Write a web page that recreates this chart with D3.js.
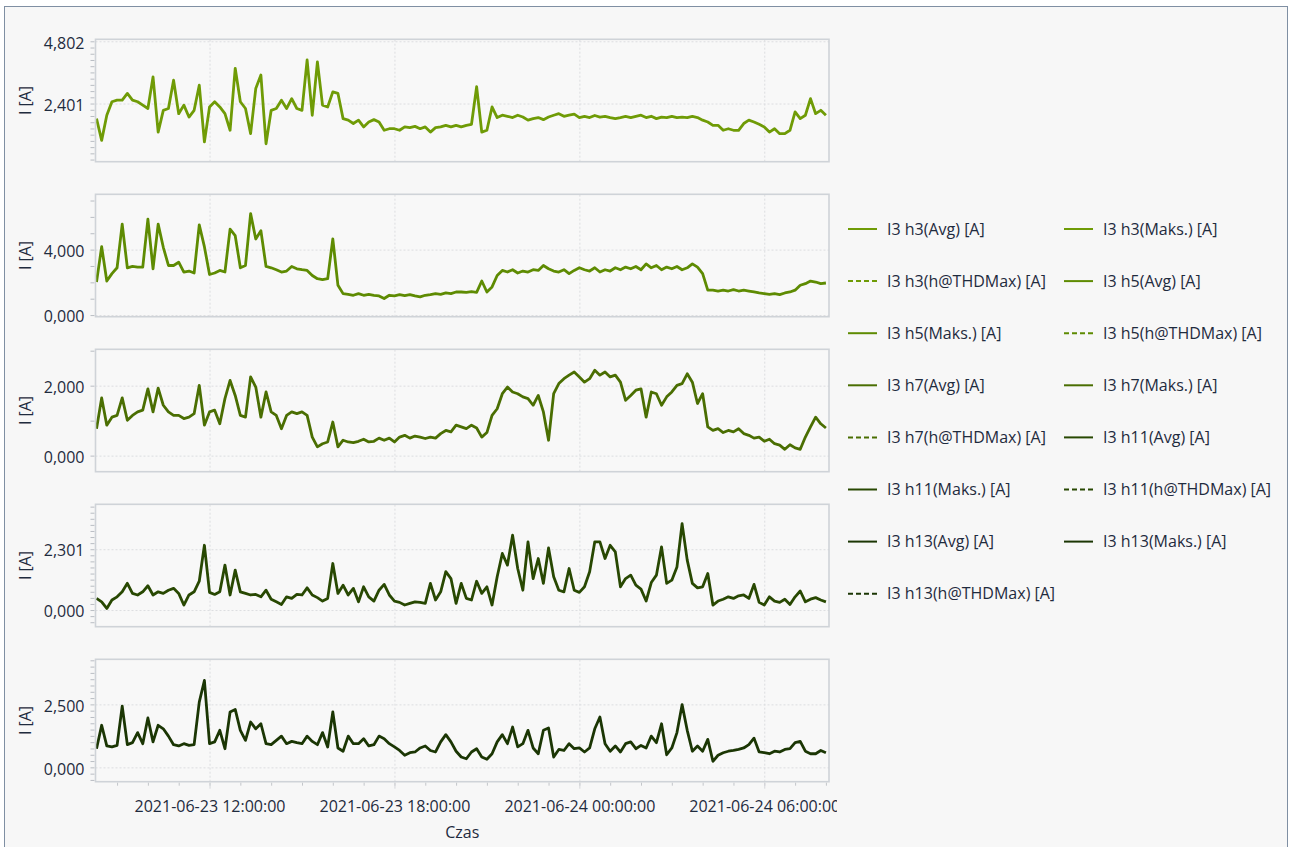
<!DOCTYPE html>
<html>
<head>
<meta charset="utf-8">
<script src="https://cdn.jsdelivr.net/npm/d3@7"></script>
<style>
  body { margin: 0; background: #fff; }
  svg text { font-family: "Open Sans", "Noto Sans", sans-serif; fill: #1f2b3e; }
</style>
</head>
<body>
<div id="chart"></div>
<script>
// samples every 10 minutes from 2021-06-23 08:20
const sampleStart = new Date(2021, 5, 23, 8, 20);
const sampleStepMinutes = 10;

const h3Values = [
  1.82, 0.98, 1.95, 2.47, 2.53, 2.53, 2.79, 2.53, 2.47, 2.34,
  2.21, 3.43, 1.30, 2.14, 2.21, 3.30, 2.01, 2.34, 1.88, 2.14,
  3.11, 0.92, 2.27, 2.47, 2.27, 2.01, 1.37, 3.76, 2.47, 2.21,
  1.24, 2.98, 3.50, 0.85, 2.14, 2.21, 2.53, 2.21, 2.59, 2.21,
  2.14, 4.08, 1.95, 4.01, 2.34, 2.27, 2.85, 2.79, 1.82, 1.76,
  1.63, 1.76, 1.50, 1.69, 1.78, 1.69, 1.37, 1.43, 1.43, 1.37,
  1.50, 1.47, 1.52, 1.43, 1.50, 1.30, 1.47, 1.50, 1.56, 1.50,
  1.56, 1.50, 1.56, 1.60, 3.05, 1.30, 1.37, 2.27, 1.86, 1.95,
  1.91, 1.86, 1.95, 1.88, 1.76, 1.82, 1.86, 1.78, 1.88, 1.95,
  2.01, 1.91, 1.95, 1.99, 1.86, 1.91, 1.86, 1.94, 1.88, 1.91,
  1.86, 1.82, 1.86, 1.91, 1.86, 1.91, 1.95, 1.86, 1.91, 1.82,
  1.88, 1.86, 1.91, 1.86, 1.88, 1.86, 1.91, 1.86, 1.76, 1.69,
  1.56, 1.56, 1.37, 1.43, 1.37, 1.37, 1.63, 1.76, 1.69, 1.60,
  1.50, 1.30, 1.43, 1.24, 1.24, 1.37, 2.08, 1.82, 1.95, 2.59,
  2.01, 2.14, 1.95
];

const h5Values = [
  2.02, 4.18, 2.08, 2.53, 2.89, 5.56, 2.89, 2.97, 2.93, 2.93,
  5.86, 2.83, 5.56, 4.14, 3.03, 3.03, 3.23, 2.63, 2.69, 2.57,
  5.51, 4.18, 2.48, 2.57, 2.73, 2.63, 5.25, 4.85, 2.89, 3.03,
  6.20, 4.65, 5.15, 2.97, 2.89, 2.77, 2.63, 2.69, 2.97, 2.83,
  2.77, 2.73, 2.42, 2.22, 2.16, 2.22, 4.65, 1.82, 1.31, 1.27,
  1.21, 1.31, 1.21, 1.27, 1.21, 1.17, 1.01, 1.21, 1.17, 1.25,
  1.19, 1.25, 1.17, 1.11, 1.21, 1.25, 1.31, 1.27, 1.35, 1.31,
  1.41, 1.41, 1.39, 1.43, 1.39, 2.08, 1.41, 1.72, 2.42, 2.73,
  2.63, 2.77, 2.57, 2.69, 2.63, 2.77, 2.73, 3.03, 2.83, 2.69,
  2.63, 2.77, 2.53, 2.73, 2.89, 2.77, 2.69, 2.89, 2.63, 2.77,
  2.69, 2.89, 2.77, 2.93, 2.83, 2.97, 2.77, 3.13, 2.89, 3.03,
  2.77, 2.93, 2.83, 2.97, 2.77, 2.89, 3.13, 2.93, 2.53, 1.52,
  1.52, 1.47, 1.52, 1.47, 1.56, 1.47, 1.52, 1.47, 1.41, 1.35,
  1.31, 1.27, 1.31, 1.25, 1.35, 1.41, 1.52, 1.82, 1.92, 2.08,
  2.02, 1.92, 1.96
];

const h7Values = [
  0.77, 1.65, 0.87, 1.10, 1.15, 1.65, 1.01, 1.15, 1.25, 1.30,
  1.91, 1.25, 1.93, 1.44, 1.25, 1.15, 1.15, 1.06, 1.10, 1.20,
  2.01, 0.87, 1.25, 1.30, 0.91, 1.63, 2.15, 1.72, 1.15, 1.10,
  2.25, 1.96, 1.10, 1.82, 1.25, 1.15, 0.77, 1.15, 1.25, 1.20,
  1.25, 1.15, 0.53, 0.25, 0.34, 0.39, 0.96, 0.25, 0.44, 0.39,
  0.37, 0.41, 0.47, 0.39, 0.41, 0.50, 0.44, 0.50, 0.39, 0.53,
  0.58, 0.50, 0.56, 0.53, 0.49, 0.53, 0.50, 0.63, 0.72, 0.68,
  0.87, 0.82, 0.77, 0.87, 0.79, 0.53, 0.66, 1.15, 1.34, 1.77,
  1.96, 1.82, 1.77, 1.68, 1.63, 1.44, 1.72, 1.25, 0.44, 1.77,
  2.06, 2.20, 2.30, 2.39, 2.25, 2.10, 2.20, 2.44, 2.30, 2.39,
  2.25, 2.30, 2.10, 1.58, 1.72, 1.87, 1.91, 1.10, 1.82, 1.77,
  1.44, 1.68, 1.82, 2.01, 2.06, 2.34, 2.10, 1.49, 1.77, 0.82,
  0.72, 0.77, 0.66, 0.72, 0.68, 0.77, 0.63, 0.58, 0.50, 0.53,
  0.41, 0.47, 0.34, 0.30, 0.18, 0.31, 0.22, 0.18, 0.53, 0.82,
  1.10, 0.91, 0.79
];

const h11Values = [
  0.44, 0.31, 0.06, 0.38, 0.50, 0.69, 1.01, 0.63, 0.57, 0.69,
  0.92, 0.57, 0.69, 0.63, 0.75, 0.82, 0.63, 0.19, 0.57, 0.69,
  1.09, 2.45, 0.67, 0.59, 0.69, 1.70, 0.57, 1.51, 0.69, 0.63,
  0.57, 0.59, 0.50, 0.75, 0.41, 0.31, 0.21, 0.50, 0.44, 0.59,
  0.57, 0.84, 0.57, 0.47, 0.34, 0.44, 1.76, 0.63, 0.94, 0.57,
  0.82, 0.31, 0.88, 0.50, 0.34, 0.75, 0.97, 0.57, 0.34, 0.29,
  0.19, 0.25, 0.31, 0.29, 0.25, 1.01, 0.38, 0.69, 1.45, 1.19,
  0.25, 1.01, 0.44, 0.38, 1.09, 0.63, 0.88, 0.19, 1.26, 2.14,
  1.70, 2.83, 1.57, 0.75, 2.58, 1.19, 1.95, 1.01, 2.35, 1.26,
  0.75, 0.69, 1.57, 0.75, 0.67, 0.88, 1.45, 2.58, 2.58, 1.95,
  2.45, 2.20, 0.88, 1.19, 1.32, 0.94, 0.79, 0.34, 1.04, 1.32,
  2.39, 1.01, 1.13, 1.63, 3.27, 1.89, 1.01, 0.84, 0.88, 1.38,
  0.19, 0.34, 0.41, 0.50, 0.44, 0.54, 0.57, 0.44, 0.97, 0.29,
  0.19, 0.50, 0.34, 0.29, 0.41, 0.21, 0.50, 0.72, 0.31, 0.41,
  0.47, 0.38, 0.31
];

const h13Values = [
  0.74, 1.67, 0.85, 0.81, 0.87, 2.43, 0.90, 0.98, 1.38, 0.94,
  1.96, 1.01, 1.67, 1.53, 1.24, 0.90, 0.85, 0.94, 0.87, 0.90,
  2.59, 3.45, 0.94, 1.01, 1.47, 0.74, 2.20, 2.30, 1.47, 1.07,
  1.80, 1.53, 1.73, 0.94, 0.90, 1.07, 1.24, 0.94, 1.03, 0.98,
  0.94, 1.24, 1.03, 0.90, 1.38, 0.81, 2.20, 0.77, 0.64, 1.24,
  0.94, 0.94, 1.14, 0.85, 0.90, 1.24, 1.14, 0.94, 0.81, 0.67,
  0.48, 0.58, 0.61, 0.77, 0.85, 0.67, 0.61, 1.01, 1.30, 1.01,
  0.64, 0.41, 0.34, 0.61, 0.74, 0.41, 0.32, 0.54, 1.01, 1.30,
  0.94, 1.60, 0.81, 0.94, 1.47, 0.77, 0.54, 1.47, 1.56, 0.41,
  0.71, 0.67, 0.94, 0.74, 0.77, 0.61, 0.77, 1.53, 2.00, 0.94,
  0.64, 0.85, 0.61, 0.94, 1.01, 0.74, 0.87, 0.77, 1.24, 0.98,
  1.73, 0.50, 0.77, 1.38, 2.49, 1.47, 0.64, 0.85, 0.64, 1.11,
  0.24, 0.48, 0.58, 0.64, 0.67, 0.71, 0.77, 0.90, 1.16, 0.61,
  0.58, 0.54, 0.64, 0.61, 0.71, 0.74, 0.98, 1.03, 0.64, 0.54,
  0.54, 0.67, 0.58
];

// tick labels of each panel
const h3Ticks = [2.401, 4.802];
const h5Ticks = [0, 4];
const h7Ticks = [0, 2];
const h11Ticks = [0, 2.301];
const h13Ticks = [0, 2.5];

const legendLabels = [
  'I3 h3(Avg) [A]', 'I3 h3(Maks.) [A]', 'I3 h3(h@THDMax) [A]',
  'I3 h5(Avg) [A]', 'I3 h5(Maks.) [A]', 'I3 h5(h@THDMax) [A]',
  'I3 h7(Avg) [A]', 'I3 h7(Maks.) [A]', 'I3 h7(h@THDMax) [A]',
  'I3 h11(Avg) [A]', 'I3 h11(Maks.) [A]', 'I3 h11(h@THDMax) [A]',
  'I3 h13(Avg) [A]', 'I3 h13(Maks.) [A]', 'I3 h13(h@THDMax) [A]'
];

const colors = ['#6f9b06', '#5e8b02', '#4a6e02', '#284802', '#1b3604'];

const panels = [
  { values: h3Values, ticks: h3Ticks, minorStep: 0.2401, domain: [0.158, 4.879] },
  { values: h5Values, ticks: h5Ticks, minorStep: 1, domain: [-0.10, 7.38] },
  { values: h7Values, ticks: h7Ticks, minorStep: 1, domain: [-0.46, 3.04] },
  { values: h11Values, ticks: h11Ticks, minorStep: 0.2301, domain: [-0.63, 4.00] },
  { values: h13Values, ticks: h13Ticks, minorStep: 0.25, domain: [-0.57, 4.29] }
];

const W = 1290, H = 847;
const plotLeft = 95.5, plotRight = 829;
const firstTop = 39.3, panelPitch = 155, panelHeight = 122.4;
const gridColor = '#dcdde0';
const fmt = v => d3.format('.3f')(v).replace('.', ',');

const svg = d3.select('#chart').append('svg')
  .attr('width', W)
  .attr('height', H);

svg.append('rect').attr('width', W).attr('height', H).attr('fill', '#fff');
svg.append('rect')
  .attr('x', 4.5).attr('y', 6.5)
  .attr('width', 1283).attr('height', 860)
  .attr('fill', '#f7f7f7')
  .attr('stroke', '#7f8fa3');

const x = d3.scaleTime()
  .domain([new Date(2021, 5, 23, 8, 18), new Date(2021, 5, 24, 8, 6)])
  .range([plotLeft, plotRight]);

const times = h3Values.map((d, i) => new Date(sampleStart.getTime() + i * sampleStepMinutes * 60000));

const defs = svg.append('defs');
defs.append('clipPath').attr('id', 'xlabelClip')
  .append('rect').attr('x', 0).attr('y', 0).attr('width', 837).attr('height', H);

panels.forEach((p, i) => {
  const top = firstTop + i * panelPitch;
  const bottom = top + panelHeight;
  const y = d3.scaleLinear().domain(p.domain).range([bottom, top]);
  const g = svg.append('g');

  defs.append('clipPath').attr('id', 'clip' + i)
    .append('rect')
    .attr('x', plotLeft).attr('y', top)
    .attr('width', plotRight - plotLeft).attr('height', panelHeight);

  g.append('rect')
    .attr('x', plotLeft).attr('y', top)
    .attr('width', plotRight - plotLeft).attr('height', panelHeight)
    .attr('fill', '#f8f8f8');

  // horizontal grid
  const hGrid = g.append('g')
    .attr('transform', `translate(${plotLeft},0)`)
    .call(d3.axisLeft(y).tickValues(p.ticks).tickSize(-(plotRight - plotLeft)).tickFormat(''));
  hGrid.select('.domain').remove();
  hGrid.selectAll('line').attr('stroke', gridColor).attr('stroke-dasharray', '2,2');

  // vertical grid every 6 hours
  const vGrid = g.append('g')
    .attr('transform', `translate(0,${bottom})`)
    .call(d3.axisBottom(x).ticks(d3.timeHour.every(6)).tickSize(-panelHeight).tickFormat(''));
  vGrid.select('.domain').remove();
  vGrid.selectAll('line').attr('stroke', gridColor).attr('stroke-dasharray', '2,2');

  // minor ticks on the left
  const minor = [];
  for (let k = Math.ceil(p.domain[0] / p.minorStep); k * p.minorStep <= p.domain[1]; k++) {
    minor.push(k * p.minorStep);
  }
  const mAxis = g.append('g')
    .attr('transform', `translate(${plotLeft - 1},0)`)
    .call(d3.axisLeft(y).tickValues(minor).tickSize(4).tickFormat(''));
  mAxis.select('.domain').remove();
  mAxis.selectAll('line').attr('stroke', '#b9bdc3');

  // tick labels
  const lAxis = g.append('g')
    .attr('transform', `translate(${plotLeft},0)`)
    .call(d3.axisLeft(y).tickValues(p.ticks).tickSize(0).tickPadding(11).tickFormat(fmt));
  lAxis.select('.domain').remove();
  lAxis.selectAll('text')
    .attr('font-size', 16)
    .attr('font-family', '"Open Sans", "Noto Sans", sans-serif')
    .attr('fill', '#1f2b3e')
    .attr('dy', '0.42em');

  // data line
  const line = d3.line()
    .x((d, j) => x(times[j]))
    .y(d => y(d));
  g.append('path')
    .datum(p.values)
    .attr('clip-path', `url(#clip${i})`)
    .attr('fill', 'none')
    .attr('stroke', colors[i])
    .attr('stroke-width', 2.8)
    .attr('stroke-linejoin', 'round')
    .attr('d', line);

  // frame
  g.append('rect')
    .attr('x', plotLeft).attr('y', top)
    .attr('width', plotRight - plotLeft).attr('height', panelHeight)
    .attr('fill', 'none')
    .attr('stroke', '#cfd3d8')
    .attr('stroke-width', 1.6);

  // y label
  g.append('text')
    .attr('transform', `translate(31,${top + panelHeight / 2}) rotate(-90)`)
    .attr('text-anchor', 'middle')
    .attr('font-size', 16)
    .text('I [A]');
});

// x axis under the last panel
const lastBottom = firstTop + 4 * panelPitch + panelHeight;
const xMinor = svg.append('g')
  .attr('transform', `translate(0,${lastBottom + 1})`)
  .call(d3.axisBottom(x).ticks(d3.timeHour.every(1)).tickSize(3).tickFormat(''));
xMinor.select('.domain').remove();
xMinor.selectAll('line').attr('stroke', '#c3c6ca');

const xMajor = svg.append('g')
  .attr('transform', `translate(0,${lastBottom + 1})`)
  .attr('clip-path', 'url(#xlabelClip)')
  .call(d3.axisBottom(x).ticks(d3.timeHour.every(6)).tickSize(6).tickPadding(12)
    .tickFormat(d3.timeFormat('%Y-%m-%d %H:%M:%S')));
xMajor.select('.domain').remove();
xMajor.selectAll('line').attr('stroke', '#d5d7da');
xMajor.selectAll('text')
  .attr('font-size', 16)
  .attr('font-family', '"Open Sans", "Noto Sans", sans-serif')
  .attr('fill', '#1f2b3e');

svg.append('text')
  .attr('x', (plotLeft + plotRight) / 2)
  .attr('y', 838)
  .attr('text-anchor', 'middle')
  .attr('font-size', 16)
  .text('Czas');

// legend, two columns
const legend = svg.append('g');
legendLabels.forEach((label, n) => {
  const col = n % 2, row = Math.floor(n / 2);
  const lx = col === 0 ? 848 : 1064;
  const ly = 229 + row * 52.1;
  const harmonic = Math.floor(n / 3);
  const dashed = label.includes('THDMax');
  legend.append('line')
    .attr('x1', lx).attr('x2', lx + 29)
    .attr('y1', ly).attr('y2', ly)
    .attr('stroke', colors[harmonic])
    .attr('stroke-width', 2)
    .attr('stroke-dasharray', dashed ? '5,3' : null);
  legend.append('text')
    .attr('x', lx + 39)
    .attr('y', ly)
    .attr('dy', '0.36em')
    .attr('font-size', 16)
    .text(label);
});
</script>
</body>
</html>
